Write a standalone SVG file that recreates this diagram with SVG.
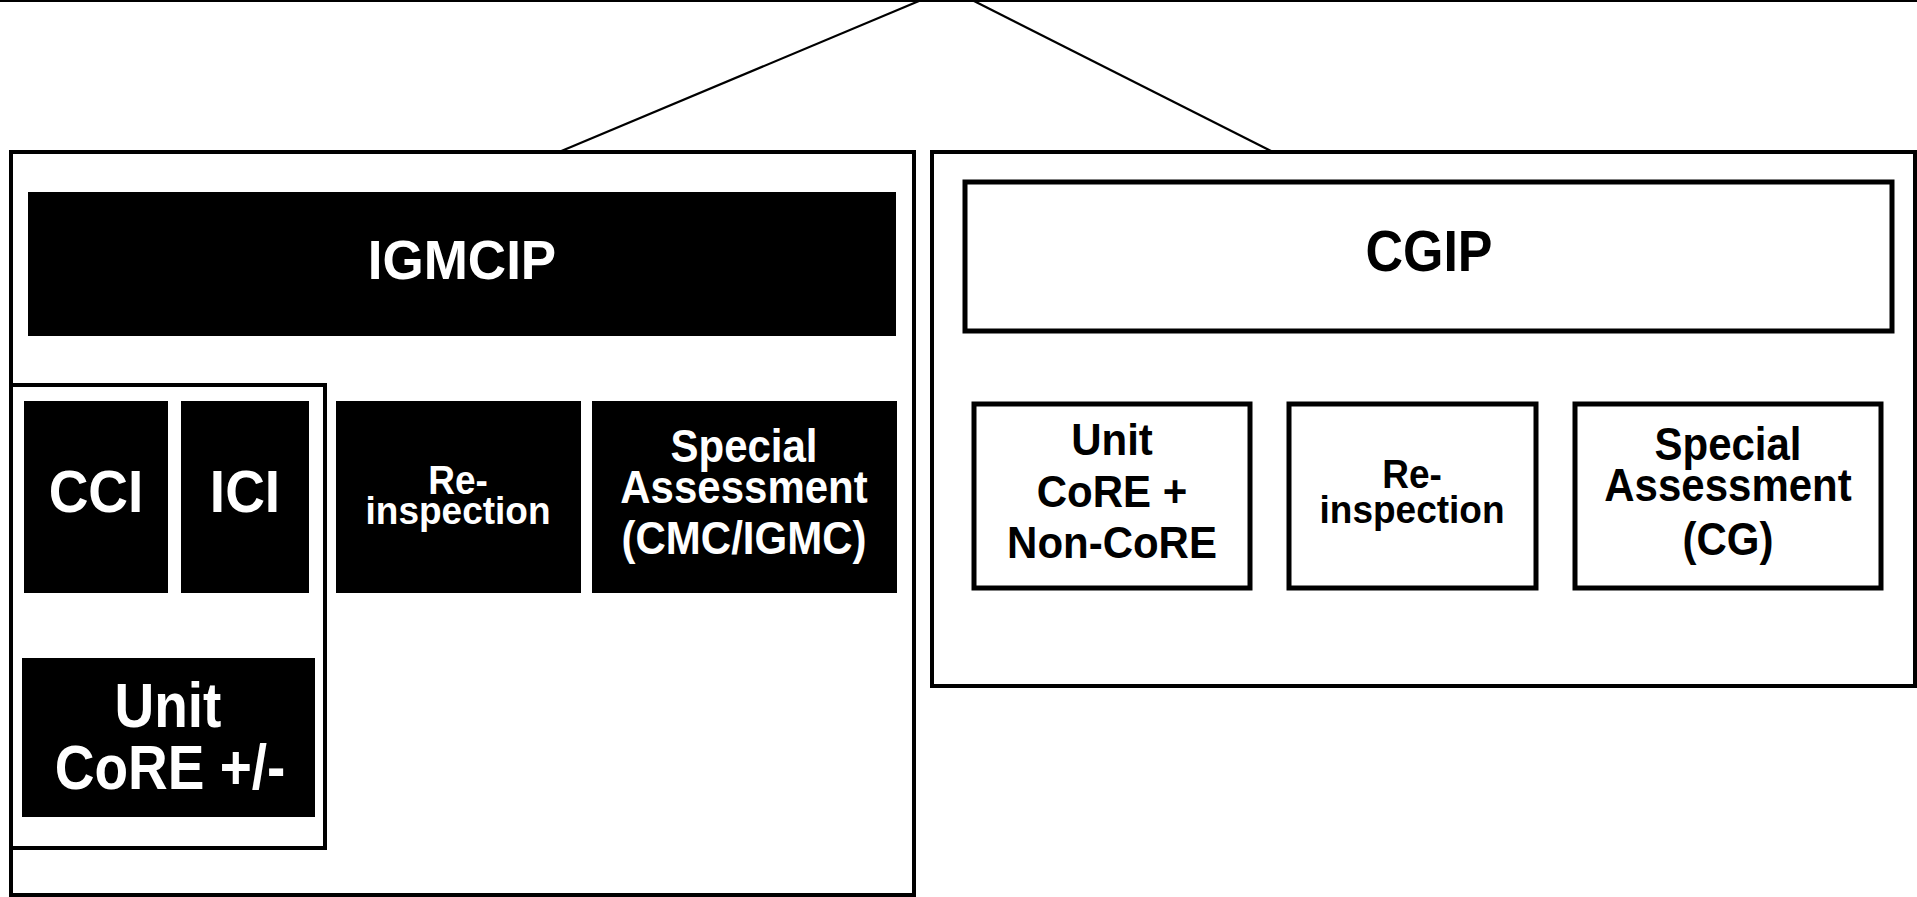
<svg xmlns="http://www.w3.org/2000/svg" width="1917" height="897" viewBox="0 0 1917 897">
<style>
.frame{fill:#fff;stroke:#000;stroke-width:4}
.blk{fill:#000;stroke:none}
.wbox{fill:#fff;stroke:#000;stroke-width:5}
.conn{stroke:#000;stroke-width:2.2;fill:none}
text{font-family:"Liberation Sans",Arial,sans-serif;font-weight:bold;text-anchor:middle}
.w{fill:#fff}
.k{fill:#000}
</style>
<rect width="1917" height="897" fill="#fff"/>
<g id="connectors">
<line class="conn" x1="0" y1="1" x2="1917" y2="1"/>
<line class="conn" x1="919" y1="1" x2="559" y2="152"/>
<line class="conn" x1="974" y1="1" x2="1273" y2="152"/>
</g>
<g id="igmcip-group">
<rect class="frame" x="11" y="152" width="903" height="743"/>
</g>
<g id="igmcip">
<rect class="blk" x="28" y="192" width="868" height="144"/>
<text class="w" font-size="53" transform="translate(462,279) scale(1,1.05)">IGMCIP</text>
</g>
<g id="inspection-group">
<rect class="frame" x="11" y="385" width="314" height="463"/>
</g>
<g id="cci">
<rect class="blk" x="24" y="401" width="144" height="192"/>
<text class="w" font-size="55" transform="translate(96,512) scale(1,1.08)">CCI</text>
</g>
<g id="ici">
<rect class="blk" x="181" y="401" width="128" height="192"/>
<text class="w" font-size="55" transform="translate(245,512) scale(1,1.08)">ICI</text>
</g>
<g id="unit-core-pm">
<rect class="blk" x="22" y="658" width="293" height="159"/>
<text class="w" font-size="55" transform="translate(168,727) scale(1,1.15)">Unit</text>
<text class="w" font-size="55" transform="translate(170,789) scale(1,1.15)">CoRE +/-</text>
</g>
<g id="reinspection-left">
<rect class="blk" x="336" y="401" width="245" height="192"/>
<text class="w" font-size="37" transform="translate(458,494) scale(1,1.08)">Re-</text>
<text class="w" font-size="37" transform="translate(458,524) scale(1,1.06)">inspection</text>
</g>
<g id="special-left">
<rect class="blk" x="592" y="401" width="305" height="192"/>
<text class="w" font-size="42" transform="translate(744,462) scale(1,1.08)">Special</text>
<text class="w" font-size="42" transform="translate(744,503) scale(1,1.08)">Assessment</text>
<text class="w" font-size="42" transform="translate(744,554) scale(1,1.08)">(CMC/IGMC)</text>
</g>
<g id="cgip-group">
<rect class="frame" x="932" y="152" width="983" height="534"/>
</g>
<g id="cgip">
<rect class="wbox" x="965" y="182" width="927" height="149"/>
<text class="k" font-size="52" transform="translate(1429,271) scale(1,1.12)">CGIP</text>
</g>
<g id="unit-core-noncore">
<rect class="wbox" x="974" y="404" width="276" height="184"/>
<text class="k" font-size="42" transform="translate(1112,455) scale(1,1.06)">Unit</text>
<text class="k" font-size="42" transform="translate(1112,507) scale(1,1.06)">CoRE +</text>
<text class="k" font-size="42" transform="translate(1112,558) scale(1,1.06)">Non-CoRE</text>
</g>
<g id="reinspection-right">
<rect class="wbox" x="1289" y="404" width="247" height="184"/>
<text class="k" font-size="37" transform="translate(1412,488) scale(1,1.08)">Re-</text>
<text class="k" font-size="37" transform="translate(1412,523) scale(1,1.06)">inspection</text>
</g>
<g id="special-right">
<rect class="wbox" x="1575" y="404" width="306" height="184"/>
<text class="k" font-size="42" transform="translate(1728,460) scale(1,1.08)">Special</text>
<text class="k" font-size="42" transform="translate(1728,501) scale(1,1.08)">Assessment</text>
<text class="k" font-size="42" transform="translate(1728,555) scale(1,1.08)">(CG)</text>
</g>
</svg>
